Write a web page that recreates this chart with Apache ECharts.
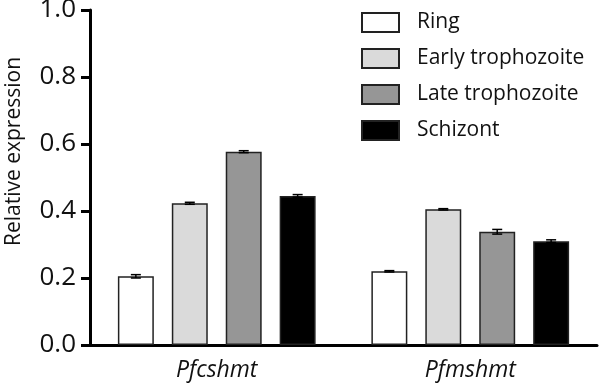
<!DOCTYPE html>
<html>
<head>
<meta charset="utf-8">
<script src="https://cdn.jsdelivr.net/npm/echarts@6/dist/echarts.min.js"></script>
<style>
	html, body { margin: 0; padding: 0; background: #fff; }
	#chart { width: 600px; height: 385px; }
</style>
</head>
<body>
<div id="chart"></div>
<script type="text/javascript">
	var genes = ['Pfcshmt', 'Pfmshmt'];
	var stages = ['Ring', 'Early trophozoite', 'Late trophozoite', 'Schizont'];
	var ringVals = [0.205, 0.220];
	var earlyVals = [0.423, 0.405];
	var lateVals = [0.577, 0.338];
	var schizontVals = [0.445, 0.310];
	var ringErr = [0.005, 0.002];
	var earlyErr = [0.003, 0.002];
	var lateErr = [0.003, 0.007];
	var schizontErr = [0.004, 0.004];
	var yTicks = [0, 0.2, 0.4, 0.6, 0.8, 1.0];

	var values = [ringVals, earlyVals, lateVals, schizontVals];
	var errors = [ringErr, earlyErr, lateErr, schizontErr];
	var fills = ['#ffffff', '#dadada', '#969696', '#000000'];

	var catGap = 0.22, barGap = 0.5;
	var font = 'Open Sans, Liberation Sans, sans-serif';

	var series = [];
	stages.forEach(function (name, i) {
		series.push({
			name: name,
			type: 'bar',
			data: values[i],
			barGap: (barGap * 100) + '%',
			barCategoryGap: (catGap * 100) + '%',
			itemStyle: { color: fills[i], borderColor: '#222', borderWidth: 1.5 }
		});
	});
	// error bars
	stages.forEach(function (name, i) {
		var data = values[i].map(function (v, k) { return [k, v - errors[i][k], v + errors[i][k]]; });
		series.push({
			type: 'custom',
			z: 10,
			silent: true,
			data: data,
			renderItem: function (params, api) {
				var band = api.size([1, 0])[0];
				var total = band * (1 - catGap);
				var bw = total / (4 + 3 * barGap);
				var off = -total / 2 + i * bw * (1 + barGap) + bw / 2;
				var lo = api.coord([api.value(0), api.value(1)]);
				var hi = api.coord([api.value(0), api.value(2)]);
				var x = lo[0] + off, hw = 5;
				var st = { stroke: '#000', lineWidth: 1.5 };
				return {
					type: 'group',
					children: [
						{ type: 'line', shape: { x1: x, y1: lo[1], x2: x, y2: hi[1] }, style: st },
						{ type: 'line', shape: { x1: x - hw, y1: hi[1], x2: x + hw, y2: hi[1] }, style: st },
						{ type: 'line', shape: { x1: x - hw, y1: lo[1], x2: x + hw, y2: lo[1] }, style: st }
					]
				};
			}
		});
	});

	var chart = echarts.init(document.getElementById('chart'));
	chart.setOption({
		animation: false,
		textStyle: { fontFamily: font },
		grid: { left: 90, right: 3, top: 10, bottom: 40, outerBoundsMode: 'none' },
		legend: {
			orient: 'vertical',
			left: 361,
			top: 12,
			padding: 0,
			itemWidth: 37,
			itemHeight: 19,
			itemGap: 15,
			icon: 'rect',
			data: stages,
			textStyle: { fontSize: 21, color: '#111', fontFamily: font, padding: [0, 0, 0, 13] }
		},
		xAxis: {
			type: 'category',
			data: genes,
			axisLine: { lineStyle: { color: '#000', width: 3 } },
			axisTick: { alignWithLabel: true, length: 8, lineStyle: { width: 3, color: '#000' } },
			axisLabel: { fontSize: 23, fontStyle: 'italic', color: '#111', margin: 14 }
		},
		yAxis: {
			type: 'value',
			min: yTicks[0],
			max: yTicks[yTicks.length - 1],
			interval: 0.2,
			name: 'Relative expression',
			nameLocation: 'middle',
			nameGap: 65,
			nameTextStyle: { fontSize: 21, color: '#111', padding: [0, 0, 0, 52] },
			splitLine: { show: false },
			axisLine: { show: true, lineStyle: { color: '#000', width: 3 } },
			axisTick: { show: true, length: 9, lineStyle: { width: 3, color: '#000' } },
			axisLabel: {
				fontSize: 26, color: '#111', margin: 14,
				formatter: function (v) { return v.toFixed(1); }
			}
		},
		series: series
	});
</script>
</body>
</html>
